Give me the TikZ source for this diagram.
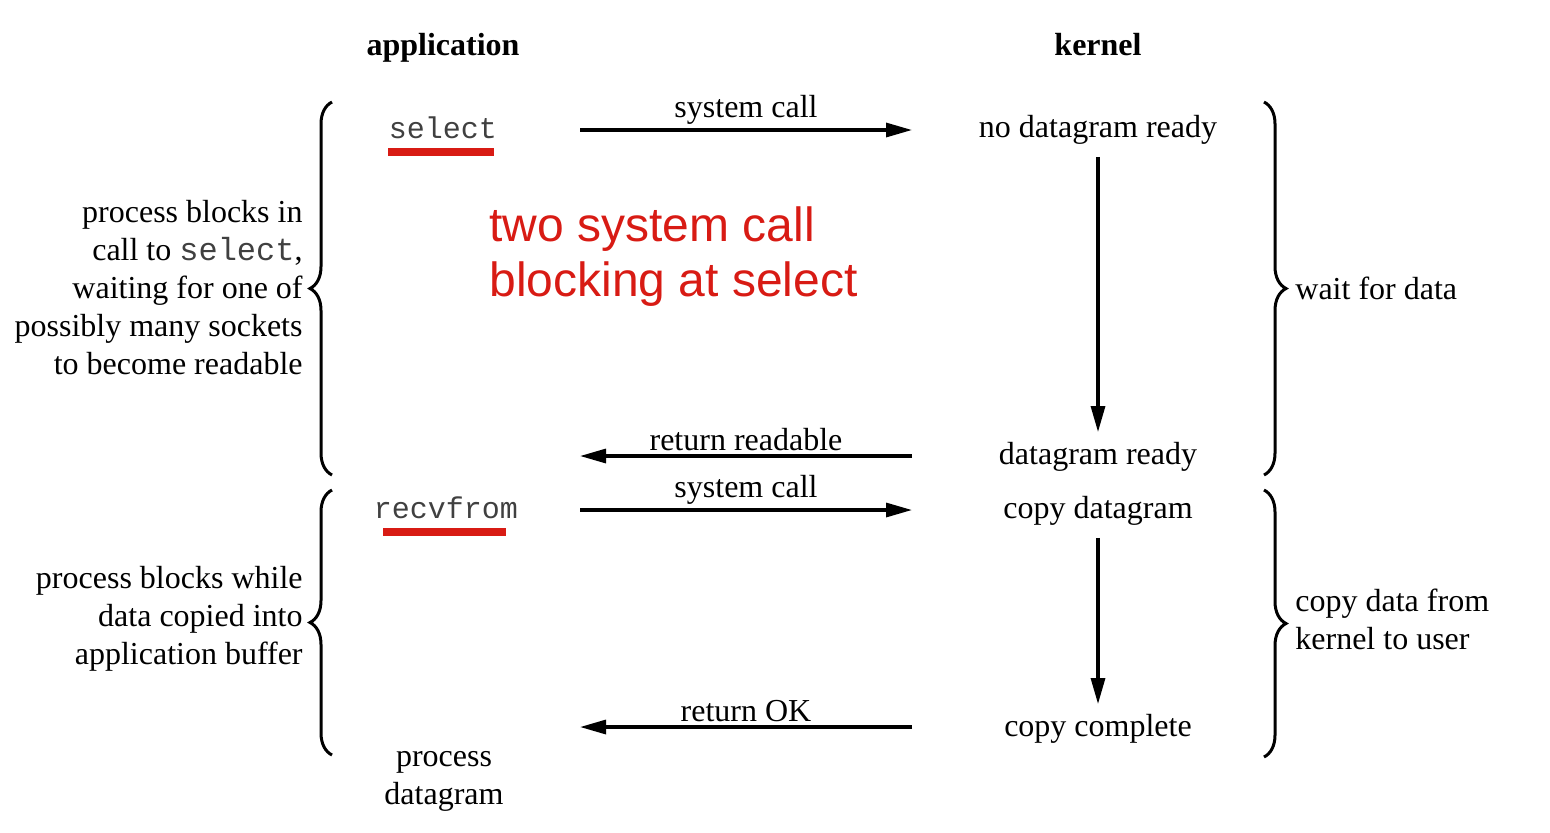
\documentclass[tikz,border=0pt]{standalone}
\usepackage{fontspec}
\setmainfont{Liberation Serif}
\setmonofont{Liberation Mono}
\newfontfamily\notefont{Liberation Sans}
\usetikzlibrary{arrows.meta,decorations.pathreplacing}
\definecolor{notered}{HTML}{D81B14}
\tikzset{
  txt/.style={font=\fontsize{16}{19}\selectfont, inner sep=1pt},
  head/.style={font=\fontsize{16}{19}\selectfont\bfseries, inner sep=1pt, anchor=base},
  code/.style={font=\fontsize{15}{18}\selectfont\ttfamily, text=black!75, inner sep=1pt},
  call/.style={line width=1.6pt, -{Triangle[length=13pt,width=7pt]}},
  brc/.style={decorate, decoration={brace, amplitude=11pt}, line width=1.5pt},
}
\begin{document}
\begin{tikzpicture}[x=0.5pt, y=-0.5pt]
\useasboundingbox (0,0) rectangle (1550,832);

% column heads
\node[head] (app) at (443,55) {application};
\node[head] (ker) at (1098,55) {kernel};

% application side
\node[code] (sel) at (443,128) {select};
\fill[notered] (388,148) rectangle (494,156);
\node[code] (rcv) at (446,508) {recvfrom};
\fill[notered] (383,528) rectangle (506,536);
\node[txt, align=center] (proc) at (444,781) {process\\ datagram};

% kernel side
\node[txt] (nodr) at (1098,130) {no datagram ready};
\node[txt] (dr) at (1098,457) {datagram ready};
\node[txt] (cpy) at (1098,511) {copy datagram};
\node[txt] (done) at (1098,729) {copy complete};

\draw[call, shorten <=5pt, shorten >=4pt] (nodr) -- (dr);
\draw[call, shorten <=5pt, shorten >=4pt] (cpy) -- (done);

% calls and returns
\coordinate (c1a) at (580,130); \coordinate (c1k) at (912,130);
\coordinate (r1a) at (580,456); \coordinate (r1k) at (912,456);
\coordinate (c2a) at (580,510); \coordinate (c2k) at (912,510);
\coordinate (r2a) at (580,727); \coordinate (r2k) at (912,727);
\draw[call] (c1a) -- node[txt, above=1pt] {system call} (c1k);
\draw[call] (r1k) -- node[txt, above=1pt] {return readable} (r1a);
\draw[call] (c2a) -- node[txt, above=1pt] {system call} (c2k);
\draw[call] (r2k) -- node[txt, above=1pt] {return OK} (r2a);

% braces
\draw[brc] (332,475) -- (332,102);
\draw[brc] (332,755) -- (332,490);
\draw[brc] (1264,102) -- (1264,475);
\draw[brc] (1264,490) -- (1264,757);

\node[txt, align=right, anchor=east] (blk1) at (305,288)
  {process blocks in\\ call to \texttt{\color{black!75}select},\\ waiting for one of\\ possibly many sockets\\ to become readable};
\node[txt, align=right, anchor=east] (blk2) at (305,619)
  {process blocks while\\ data copied into\\ application buffer};
\node[txt, anchor=west] (wait) at (1293,288) {wait for data};
\node[txt, align=left, anchor=west] (copy) at (1293,619)
  {copy data from\\ kernel to user};

% note
\node[anchor=west, align=left, text=notered, inner sep=0pt,
  font=\notefont\fontsize{24}{27.5}\selectfont] (note) at (489,257)
  {two system call\\ blocking at select};

\end{tikzpicture}
\end{document}
